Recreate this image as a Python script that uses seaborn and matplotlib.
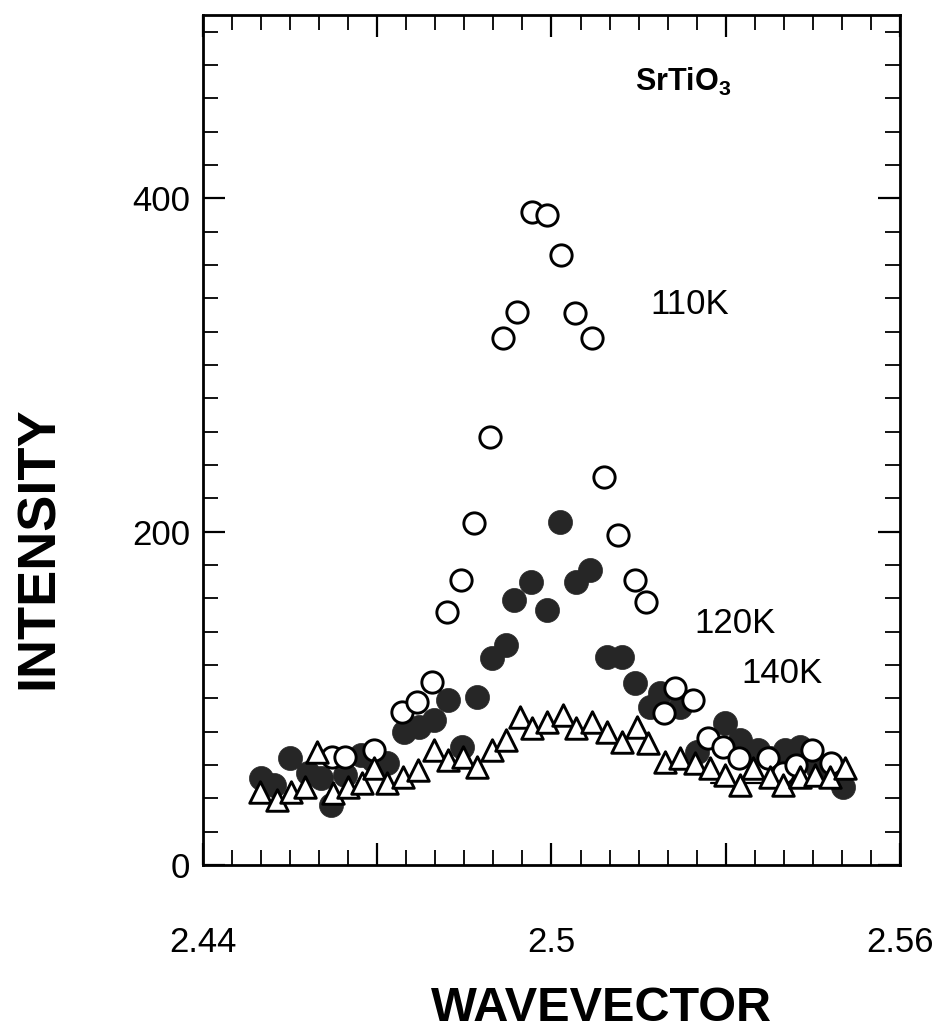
import numpy as np
import pandas as pd
import matplotlib
matplotlib.use("Agg")
import matplotlib.pyplot as plt
from matplotlib.ticker import FixedLocator, FixedFormatter, MultipleLocator
import seaborn as sns

# ---- data ----
q_110 = [2.4622, 2.4644, 2.4694, 2.4743, 2.4769, 2.4794, 2.4820, 2.4845, 2.4867,
         2.4894, 2.4916, 2.4940, 2.4966, 2.4992, 2.5016, 2.5040, 2.5069, 2.5090,
         2.5115, 2.5144, 2.5163, 2.5193, 2.5213, 2.5244, 2.5270, 2.5295, 2.5322,
         2.5373, 2.5398, 2.5421, 2.5448, 2.5481]
i_110 = [65, 65, 69, 92, 98, 110, 152, 171, 205,
         257, 316, 332, 392, 390, 366, 331, 316, 233,
         198, 171, 158, 91, 106, 99, 76, 71, 64,
         64, 55, 60, 69, 61]

q_120 = [2.4499, 2.4522, 2.4549, 2.4580, 2.4603, 2.4621, 2.4645, 2.4672, 2.4692,
         2.4716, 2.4746, 2.4772, 2.4797, 2.4822, 2.4846, 2.4872, 2.4898, 2.4921,
         2.4936, 2.4964, 2.4993, 2.5015, 2.5043, 2.5066, 2.5095, 2.5121, 2.5144,
         2.5170, 2.5187, 2.5221, 2.5250, 2.5298, 2.5325, 2.5356, 2.5376, 2.5402,
         2.5428, 2.5457, 2.5502]
i_120 = [52, 48, 64, 55, 52, 36, 54, 66, 63,
         61, 80, 83, 87, 99, 71, 101, 124, 132,
         159, 170, 153, 206, 170, 177, 125, 125, 109,
         95, 103, 95, 68, 85, 75, 69, 64, 69,
         71, 59, 47]

q_140 = [2.4498, 2.4527, 2.4551, 2.4576, 2.4596, 2.4623, 2.4649, 2.4673, 2.4694,
         2.4716, 2.4745, 2.4771, 2.4797, 2.4822, 2.4848, 2.4872, 2.4898, 2.4922,
         2.4946, 2.4967, 2.4992, 2.5019, 2.5043, 2.5069, 2.5095, 2.5121, 2.5147,
         2.5167, 2.5195, 2.5221, 2.5247, 2.5273, 2.5299, 2.5325, 2.5347, 2.5376,
         2.5399, 2.5428, 2.5454, 2.5480, 2.5505]
i_140 = [44, 39, 44, 47, 68, 43, 47, 49, 58,
         49, 53, 57, 69, 63, 65, 59, 69, 75,
         89, 82, 86, 90, 82, 86, 80, 74, 83,
         73, 62, 64, 61, 58, 54, 48, 58, 53,
         48, 53, 54, 53, 58]

# short baseline drawn under the 140K tail
q_base = [2.5275, 2.5510]
i_base = [49, 49]

x_ticks = [2.44, 2.47, 2.50, 2.53, 2.56]
x_labels = ["2.44", "", "2.5", "", "2.56"]
y_ticks = [0, 200, 400]
y_labels = ["0", "200", "400"]

# ---- style ----
sns.set_style("ticks")
plt.rcParams["font.family"] = ["Liberation Sans", "DejaVu Sans"]
plt.rcParams["mathtext.default"] = "regular"
plt.rcParams["text.color"] = "black"
plt.rcParams["axes.labelcolor"] = "black"
plt.rcParams["xtick.color"] = "black"
plt.rcParams["ytick.color"] = "black"

fig = plt.figure(figsize=(9.39, 10.32), dpi=100)
ax = fig.add_axes([203 / 939, 1 - 865 / 1032, (900 - 203) / 939, (865 - 15) / 1032])

d110 = pd.DataFrame({"q": q_110, "I": i_110})
d120 = pd.DataFrame({"q": q_120, "I": i_120})
d140 = pd.DataFrame({"q": q_140, "I": i_140})
dbase = pd.DataFrame({"q": q_base, "I": i_base})

sns.lineplot(data=dbase, x="q", y="I", color="black", linewidth=1.6, ax=ax, zorder=2)
sns.scatterplot(data=d120, x="q", y="I", marker="o", s=300, color="#262626",
                edgecolor="#262626", linewidth=0.5, ax=ax, zorder=3)
sns.scatterplot(data=d110, x="q", y="I", marker="o", s=235, color="white",
                edgecolor="black", linewidth=2.1, ax=ax, zorder=4)
sns.scatterplot(data=d140, x="q", y="I", marker="^", s=240, color="white",
                edgecolor="black", linewidth=2.1, ax=ax, zorder=5)

ax.set_xlim(2.44, 2.56)
ax.set_ylim(0, 510)

ax.xaxis.set_major_locator(FixedLocator(x_ticks))
ax.xaxis.set_major_formatter(FixedFormatter(x_labels))
ax.xaxis.set_minor_locator(MultipleLocator(0.005))
ax.yaxis.set_major_locator(FixedLocator(y_ticks))
ax.yaxis.set_major_formatter(FixedFormatter(y_labels))
ax.yaxis.set_minor_locator(MultipleLocator(20))

ax.tick_params(which="both", direction="in", top=True, right=True, colors="black")
ax.tick_params(which="major", length=16, width=1.6)
ax.tick_params(which="minor", length=11, width=1.3)
ax.tick_params(axis="x", which="major", labelsize=25, pad=44)
ax.tick_params(axis="y", which="major", labelsize=25, pad=9)

for sp in ax.spines.values():
    sp.set_linewidth(2.0)
    sp.set_color("black")

ax.set_xlabel("WAVEVECTOR", fontsize=35, fontweight="bold", color="black")
ax.set_ylabel("INTENSITY", fontsize=39, fontweight="bold", color="black")
ax.xaxis.set_label_coords(0.572, -0.142)
ax.yaxis.set_label_coords(-0.199, 0.373)

ax.text(2.5238, 336, "110K", fontsize=25, ha="center", va="center", color="black")
ax.text(2.5316, 145, "120K", fontsize=25, ha="center", va="center", color="black")
ax.text(2.5397, 115, "140K", fontsize=25, ha="center", va="center", color="black")
ax.text(2.5226, 470, "SrTiO$_3$", fontsize=22, fontweight="bold", ha="center",
        va="center", color="black")

fig.savefig("out.png", dpi=100)
